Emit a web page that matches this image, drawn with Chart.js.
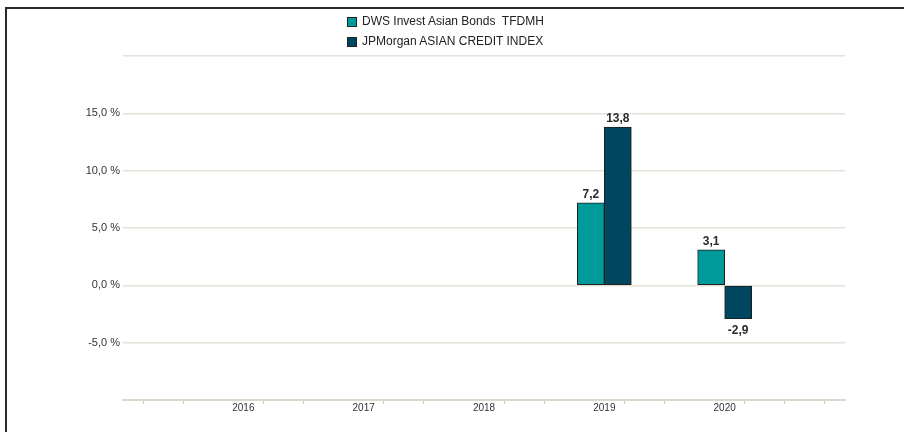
<!DOCTYPE html>
<html>
<head>
<meta charset="utf-8">
<script src="https://cdn.jsdelivr.net/npm/chart.js@4/dist/chart.umd.min.js"></script>
<style>
  body { margin: 0; background: #fff; }
  #wrap { position: relative; width: 904px; height: 432px; overflow: hidden; }
  #frame { position: absolute; left: 5px; top: 7px; width: 920px; height: 440px;
           border-top: 2px solid #2a2a2a; border-left: 2px solid #2a2a2a; pointer-events: none; }
  #legend { position: absolute; left: 347px; top: 15px; font: 12px/12px "Liberation Sans", Arial, sans-serif; color: #222; }
  #legend div { height: 20px; display: flex; align-items: flex-start; white-space: pre; }
  #legend span.box { display: inline-block; width: 8px; height: 8px; border: 1px solid #222; margin: 2px 5px 0 0; }
</style>
</head>
<body>
<div id="wrap">
  <canvas id="myChart" width="904" height="432"></canvas>
  <div id="legend"></div>
  <div id="frame"></div>
</div>
<script>
'use strict';

// chart data
let years = ['2016', '2017', '2018', '2019', '2020'];
let seriesNames = ['DWS Invest Asian Bonds  TFDMH', 'JPMorgan ASIAN CREDIT INDEX'];
let fundValues = [null, null, null, 7.2, 3.1];
let indexValues = [null, null, null, 13.8, -2.9];
let seriesColors = ['#009a9b', '#00465f'];

let yMin = -10;
let yMax = 20;
let yStep = 5;

// the axis has three small ticks per year, years sit on every third one
let slotsPerYear = 3;
let slotLabels = [];
let fundSlots = [];
let indexSlots = [];
for (let i = 0; i <= (years.length + 1) * slotsPerYear; i++) {
  let y = i / slotsPerYear - 1;
  let isYear = i % slotsPerYear === 0 && y >= 0 && y < years.length;
  slotLabels.push(isYear ? years[y] : '');
  fundSlots.push(isYear ? fundValues[y] : null);
  indexSlots.push(isYear ? indexValues[y] : null);
}

function fmt(v) {
  return v.toFixed(1).replace('.', ',');
}

const valueLabels = {
  id: 'valueLabels',
  afterDatasetsDraw(chart) {
    let ctx = chart.ctx;
    ctx.save();
    ctx.font = 'bold 12px "Liberation Sans", Arial, sans-serif';
    ctx.fillStyle = '#2a2a2a';
    ctx.textAlign = 'center';
    ctx.textBaseline = 'alphabetic';
    chart.data.datasets.forEach((ds, i) => {
      chart.getDatasetMeta(i).data.forEach((bar, j) => {
        let v = ds.data[j];
        if (v === null || v === undefined) return;
        if (v >= 0) {
          ctx.fillText(fmt(v), bar.x, bar.y - 5);
        } else {
          ctx.fillText(fmt(v), bar.x, bar.y + 15);
        }
      });
    });
    ctx.restore();
  }
};

const ctx = document.getElementById('myChart');

let config = {
  type: 'bar',
  data: {
    labels: slotLabels,
    datasets: [
      {
        label: seriesNames[0],
        data: fundSlots,
        backgroundColor: seriesColors[0],
        borderColor: '#1e1e1e',
        borderWidth: 1,
        borderSkipped: false,
        barThickness: 27
      },
      {
        label: seriesNames[1],
        data: indexSlots,
        backgroundColor: seriesColors[1],
        borderColor: '#1e1e1e',
        borderWidth: 1,
        borderSkipped: false,
        barThickness: 27
      }
    ]
  },
  options: {
    responsive: false,
    animation: false,
    devicePixelRatio: 1,
    layout: {
      padding: { left: 0, right: 59, top: 56, bottom: 0 }
    },
    plugins: {
      legend: { display: false },
      tooltip: { enabled: false }
    },
    scales: {
      x: {
        offset: false,
        grid: {
          drawOnChartArea: false,
          drawTicks: true,
          tickLength: 4,
          tickWidth: 1,
          tickColor: (c) => (slotLabels[c.index] ? 'rgba(0,0,0,0)' : '#cdc8bb')
        },
        border: { display: true, color: '#dcd8ce', width: 2 },
        ticks: {
          autoSkip: false,
          maxRotation: 0,
          padding: -2,
          color: '#333',
          font: { family: '"Liberation Sans", Arial, sans-serif', size: 10 }
        },
        afterFit: (scale) => { scale.height = 32; }
      },
      y: {
        min: yMin,
        max: yMax,
        grid: {
          drawTicks: false,
          lineWidth: 1.5,
          color: (c) => (c.tick.value === yMin ? 'rgba(0,0,0,0)' : '#e4e1d9')
        },
        border: { display: false },
        ticks: {
          stepSize: yStep,
          padding: 3,
          color: '#333',
          font: { family: '"Liberation Sans", Arial, sans-serif', size: 11 },
          callback: (v) => (v === yMin || v === yMax ? '' : fmt(v) + ' %')
        },
        afterFit: (scale) => { scale.width = 123; }
      }
    }
  },
  plugins: [valueLabels]
};

let chart = new Chart(ctx, config);

// html legend built from the datasets
let legendEl = document.getElementById('legend');
chart.data.datasets.forEach((ds) => {
  let row = document.createElement('div');
  let box = document.createElement('span');
  box.className = 'box';
  box.style.background = ds.backgroundColor;
  row.appendChild(box);
  row.appendChild(document.createTextNode(ds.label));
  legendEl.appendChild(row);
});
</script>
</body>
</html>
